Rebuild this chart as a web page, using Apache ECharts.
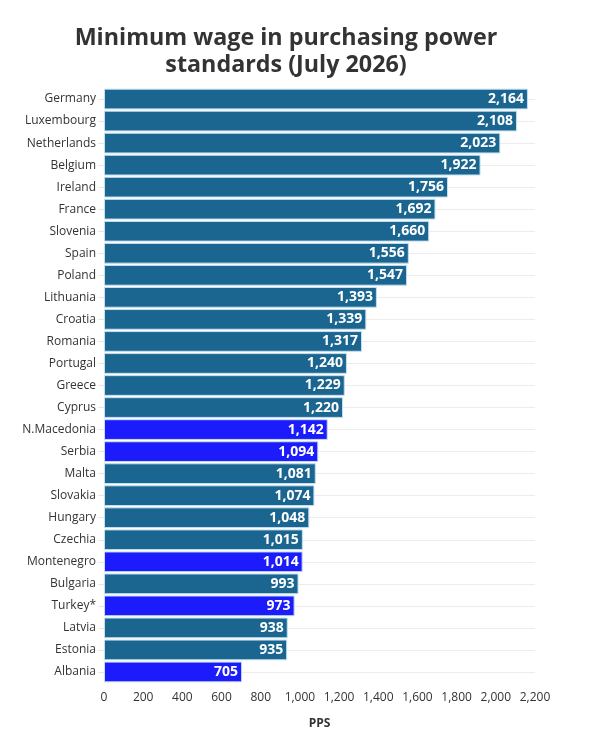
<!DOCTYPE html>
<html>
<head>
<meta charset="utf-8">
<script src="https://cdn.jsdelivr.net/npm/echarts@6/dist/echarts.min.js"></script>
<style>html,body{margin:0;padding:0;background:#fff}#c{width:590px;height:735px}</style>
</head>
<body>
<div id="c"></div>
<script>
const countries = ["Germany","Luxembourg","Netherlands","Belgium","Ireland","France","Slovenia","Spain","Poland","Lithuania","Croatia","Romania","Portugal","Greece","Cyprus","N.Macedonia","Serbia","Malta","Slovakia","Hungary","Czechia","Montenegro","Bulgaria","Turkey*","Latvia","Estonia","Albania"];
const values = [2164,2108,2023,1922,1756,1692,1660,1556,1547,1393,1339,1317,1240,1229,1220,1142,1094,1081,1074,1048,1015,1014,993,973,938,935,705];
const highlighted = ["N.Macedonia","Serbia","Montenegro","Turkey*","Albania"];
const xTicks = {min:0, max:2200, interval:200};

const FONT = '"Open Sans", sans-serif';
const chart = echarts.init(document.getElementById('c'), null, {renderer:'canvas'});
chart.setOption({
  animation:false,
  backgroundColor:'#fff',
  title:{
    text:'Minimum wage in purchasing power\nstandards (July 2026)',
    left:281, top:20, textAlign:'center',
    textStyle:{fontFamily:FONT, fontSize:23.3, fontWeight:'bold', color:'#333', lineHeight:27}
  },
  grid:{left:104, right:55, top:88, bottom:52, containLabel:false},
  xAxis:{
    type:'value', min:xTicks.min, max:xTicks.max, interval:xTicks.interval,
    name:'PPS', nameLocation:'middle', nameGap:35,
    nameTextStyle:{fontFamily:FONT, fontSize:12, fontWeight:'bold', color:'#333'},
    axisLabel:{fontFamily:FONT, fontSize:12, color:'#333', margin:9,
      formatter:v=>v.toLocaleString('en-US')},
    axisLine:{show:false}, axisTick:{show:false},
    splitLine:{show:false}
  },
  yAxis:{
    type:'category', data:countries, inverse:true,
    axisLabel:{fontFamily:FONT, fontSize:12, color:'#333', margin:8},
    axisLine:{show:false},
    axisTick:{show:true, alignWithLabel:true, length:6, lineStyle:{color:'#e6e6e6'}},
    splitLine:{show:true, alignWithLabel:true, lineStyle:{color:'#ececec', width:1}}
  },
  series:[{
    type:'bar',
    data:values.map((v,i)=>({value:v, itemStyle:{color: highlighted.includes(countries[i]) ? '#1b1bfb' : '#1b6690'}})),
    barCategoryGap:'6%',
    itemStyle:{borderColor:'#c4dff0', borderWidth:1},
    label:{show:true, position:'insideRight', distance:4, color:'#fff', fontFamily:FONT, fontSize:14, fontWeight:'bold',
      formatter:p=>p.value.toLocaleString('en-US')}
  }]
});
</script>
</body>
</html>
